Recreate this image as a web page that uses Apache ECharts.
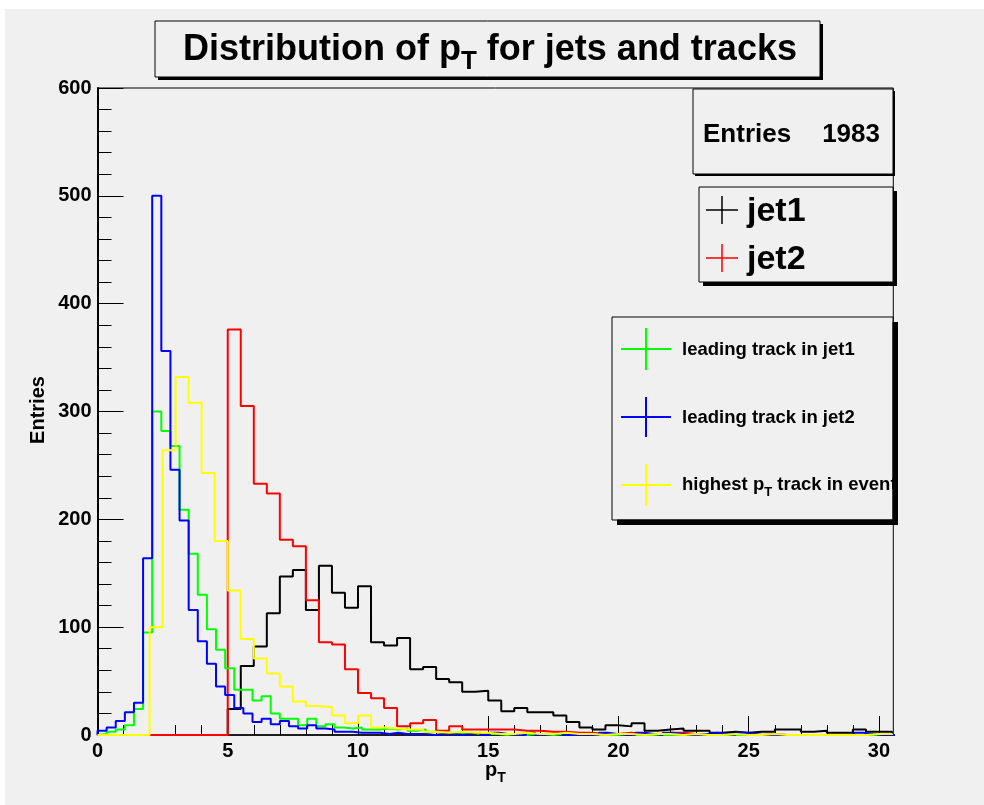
<!DOCTYPE html>
<html>
<head>
<meta charset="utf-8">
<script src="https://cdn.jsdelivr.net/npm/echarts@6/dist/echarts.min.js"></script>
<style>
  html, body { margin: 0; padding: 0; background: #ffffff; }
  #chart { width: 984px; height: 805px; }
</style>
</head>
<body>
<div id="chart"></div>
<script>
// Bin widths of the two binnings (GeV/c)
const jetBinWidth = 0.5;
const trackBinWidth = 0.35;

// Entries per bin, first bin starts at pT = 0
const jet1 = [
  0, 0, 0, 0, 0, 0, 0, 0, 0, 0,
  24, 64, 82, 113, 147, 153, 116, 157, 132, 118,
  138, 86, 83, 90, 61, 63, 52, 49, 40, 41,
  32, 22, 25, 21, 21, 18, 12, 7, 5, 9,
  8, 11, 4, 5, 6, 4, 4, 2, 3, 2,
  3, 3, 5, 5, 3, 4, 2, 2, 5, 3,
  3
];
const jet2 = [
  0, 0, 0, 0, 0, 0, 0, 0, 0, 0,
  376, 305, 233, 224, 181, 175, 125, 86, 84, 61,
  39, 34, 25, 8, 11, 14, 4, 8, 5, 5,
  5, 5, 4, 4, 3, 3, 2, 2, 1, 1,
  2, 1, 1, 0, 2, 1, 0, 0, 1, 0,
  0, 1, 0, 0, 0, 0, 0, 0, 0, 0,
  0
];
const leadingTrackJet1 = [
  1, 3, 5, 9, 24, 95, 300, 282, 268, 209,
  168, 130, 98, 79, 62, 42, 42, 32, 36, 20,
  15, 15, 9, 15, 8, 10, 7, 6, 7, 5,
  5, 6, 5, 6, 4, 5, 3, 2, 2, 1,
  2, 1, 1, 1, 0, 1, 0, 1, 0, 0,
  1, 0, 0, 1, 0, 0, 0, 0, 0, 0,
  0, 0, 0, 0, 0, 0, 0, 0, 0, 0,
  0, 0, 0, 0, 0, 0, 0, 0, 0, 0,
  0, 0, 0, 0, 0, 0, 0, 0
];
const leadingTrackJet2 = [
  4, 7, 13, 21, 30, 164, 500, 356, 246, 199,
  116, 87, 66, 45, 37, 25, 20, 12, 15, 10,
  13, 8, 6, 9, 6, 5, 3, 3, 2, 2,
  2, 1, 2, 1, 1, 1, 0, 1, 1, 0,
  1, 2, 0, 2, 1, 0, 0, 2, 0, 1,
  2, 0, 0, 0, 0, 2, 1, 0, 0, 2,
  1, 0, 2, 1, 0, 0, 1, 2, 1, 0,
  2, 1, 0, 0, 0, 0, 0, 0, 0, 0,
  0, 0, 0, 2, 1, 0, 0, 0
];
const highestTrack = [
  0, 0, 0, 0, 100, 264, 332, 308, 243, 180,
  134, 89, 71, 57, 45, 31, 27, 26, 18, 11,
  18, 7, 6, 5, 5, 3, 2, 3, 2, 2,
  1, 1, 2, 1, 1, 2, 1, 1, 0, 1,
  1, 0, 1, 1, 0, 1, 0, 0, 1, 0,
  0, 1, 0, 0, 0, 0, 0, 0, 0, 1,
  1
];

// Axis tick values
const xMajorTicks = [0, 5, 10, 15, 20, 25, 30];
const xMinorTicks = [1, 2, 3, 4, 6, 7, 8, 9, 11, 12, 13, 14, 16, 17, 18, 19, 21, 22, 23, 24, 26, 27, 28, 29];
const yTicks = [0, 100, 200, 300, 400, 500, 600];

const FONT = 'Liberation Sans, Arial, Helvetica, sans-serif';
const BG = '#f0f0f0';

// Outline of a histogram: bin edges with the bin content, closed to zero at both ends
function histOutline(values, width) {
  const pts = [[0, 0]];
  values.forEach((v, i) => pts.push([i * width, v]));
  pts.push([values.length * width, 0]);
  return pts;
}

function histSeries(name, values, width, color) {
  return {
    name: name,
    type: 'line',
    step: 'end',
    data: histOutline(values, width),
    showSymbol: false,
    symbol: 'none',
    clip: true,
    lineStyle: { color: color, width: 2 },
    emphasis: { disabled: true },
    silent: true
  };
}

const measureCtx = document.createElement('canvas').getContext('2d');
function textWidth(str, size) {
  measureCtx.font = 'bold ' + size + 'px ' + FONT;
  return measureCtx.measureText(str).width;
}

function txt(x, y, str, size, opts) {
  return Object.assign({
    type: 'text', x: x, y: y, z: 20, silent: true,
    style: Object.assign({
      text: str, fill: '#000', font: 'bold ' + size + 'px ' + FONT,
      textAlign: 'left', textVerticalAlign: 'middle'
    }, (opts && opts.style) || {})
  }, (opts && opts.el) || {});
}

// Pave with a drop shadow toward bottom-right
function pave(x, y, w, h, shadow) {
  return [
    { type: 'rect', z: 15, silent: true, shape: { x: x + shadow, y: y + shadow, width: w, height: h },
      style: { fill: '#000' } },
    { type: 'rect', z: 16, silent: true, shape: { x: x, y: y, width: w, height: h },
      style: { fill: BG, stroke: '#000', lineWidth: 1 } }
  ];
}

function cross(cx, cy, hw, hh, color, lw) {
  return [
    { type: 'line', z: 20, silent: true, shape: { x1: cx - hw, y1: cy, x2: cx + hw, y2: cy },
      style: { stroke: color, lineWidth: lw } },
    { type: 'line', z: 20, silent: true, shape: { x1: cx, y1: cy - hh, x2: cx, y2: cy + hh },
      style: { stroke: color, lineWidth: lw } }
  ];
}

const graphics = [];
// canvas pad
graphics.push({ type: 'rect', z: -10, silent: true, shape: { x: 5, y: 9, width: 979, height: 796 },
  style: { fill: BG } });

// title
graphics.push(...pave(155, 21, 665, 56, 3));
const titleA = 'Distribution of p';
const titleB = ' for jets and tracks';
const tx = 183;
const wA = textWidth(titleA, 36);
const wT = textWidth('T', 26);
graphics.push(txt(tx, 50, titleA, 36));
graphics.push(txt(tx + wA, 62, 'T', 26));
graphics.push(txt(tx + wA + wT, 50, titleB, 36));

// statistics box
graphics.push(...pave(693, 89, 200, 85, 2));
graphics.push(txt(703, 135, 'Entries', 26));
graphics.push(txt(880, 135, '1983', 26, { style: { textAlign: 'right' } }));

// legend of jets
graphics.push(...pave(699, 187, 194, 95, 4));
graphics.push(...cross(722, 210, 16, 14, '#000', 1.5));
graphics.push(txt(747, 212, 'jet1', 34));
graphics.push(...cross(722, 258, 16, 14, '#ff0000', 1.5));
graphics.push(txt(747, 260, 'jet2', 34));

// legend of tracks
graphics.push(txt(682, 350, 'leading track in jet1', 18.5));
graphics.push(txt(682, 418, 'leading track in jet2', 18.5));
const hA = 'highest p';
const wh = textWidth(hA, 18.5);
const wt = textWidth('T', 13);
graphics.push(txt(682, 485, hA, 18.5));
graphics.push(txt(682 + wh, 492, 'T', 13));
graphics.push(txt(682 + wh + wt, 485, ' track in event', 18.5));
// legend box for tracks; its shadow covers the overflowing text
graphics.push({ type: 'rect', z: 19, silent: true, shape: { x: 617, y: 322, width: 281, height: 203 },
  style: { fill: '#000' } });
graphics.push({ type: 'rect', z: 19.5, silent: true, shape: { x: 612, y: 317, width: 281, height: 203 },
  style: { fill: 'none', stroke: '#000', lineWidth: 1 } });
graphics.push({ type: 'rect', z: 18.5, silent: true, shape: { x: 612, y: 317, width: 281, height: 203 },
  style: { fill: BG } });
graphics.push({ type: 'rect', z: 19.2, silent: true, shape: { x: 612.5, y: 317.5, width: 280, height: 202 },
  style: { fill: BG } });
graphics.push(...cross(646, 349, 25, 21, '#00ff00', 2));
graphics.push(...cross(646, 417, 25, 20, '#0000ff', 2));
graphics.push(...cross(646, 485, 25, 21, '#ffff00', 2));

// axis titles
graphics.push(txt(38, 410, 'Entries', 20, { el: { rotation: Math.PI / 2 }, style: { textAlign: 'center' } }));
graphics.push(txt(485, 770, 'p', 20));
graphics.push(txt(485 + textWidth('p', 20), 778, 'T', 14));

const chart = echarts.init(document.getElementById('chart'), null, { renderer: 'canvas' });

const labelStyle = { color: '#000', fontFamily: FONT, fontWeight: 'bold', fontSize: 20 };

chart.setOption({
  animation: false,
  backgroundColor: '#ffffff',
  grid: {
    left: 97.5, right: 90.7, top: 88, bottom: 70,
    show: true, backgroundColor: BG, borderColor: '#000', borderWidth: 1,
    containLabel: false
  },
  xAxis: [
    {
      type: 'value', min: 0, max: 30.55, position: 'bottom',
      axisLine: { show: true, onZero: false, lineStyle: { color: '#000', width: 1.5 } },
      axisTick: { show: true, inside: true, length: 19, customValues: xMajorTicks, lineStyle: { color: '#000', width: 1 } },
      axisLabel: { show: true, customValues: xMajorTicks, margin: 6, ...labelStyle },
      splitLine: { show: false }
    },
    {
      type: 'value', min: 0, max: 30.55, position: 'bottom',
      axisLine: { show: false },
      axisTick: { show: true, inside: true, length: 10, customValues: xMinorTicks, lineStyle: { color: '#000', width: 1 } },
      axisLabel: { show: false },
      splitLine: { show: false }
    }
  ],
  yAxis: {
    type: 'value', min: 0, max: 600, interval: 100,
    axisLine: { show: true, onZero: false, lineStyle: { color: '#000', width: 2 } },
    axisTick: { show: true, inside: true, length: 26, lineStyle: { color: '#000', width: 1 } },
    minorTick: { show: true, splitNumber: 5, length: 14, lineStyle: { color: '#000', width: 1 } },
    axisLabel: { show: true, customValues: yTicks, margin: 6, ...labelStyle },
    splitLine: { show: false }
  },
  series: [
    histSeries('jet1', jet1, jetBinWidth, '#000000'),
    histSeries('jet2', jet2, jetBinWidth, '#ff0000'),
    histSeries('leading track in jet1', leadingTrackJet1, trackBinWidth, '#00ff00'),
    histSeries('leading track in jet2', leadingTrackJet2, trackBinWidth, '#0000ff'),
    histSeries('highest pT track in event', highestTrack, jetBinWidth, '#ffff00')
  ],
  graphic: graphics
});
</script>
</body>
</html>
